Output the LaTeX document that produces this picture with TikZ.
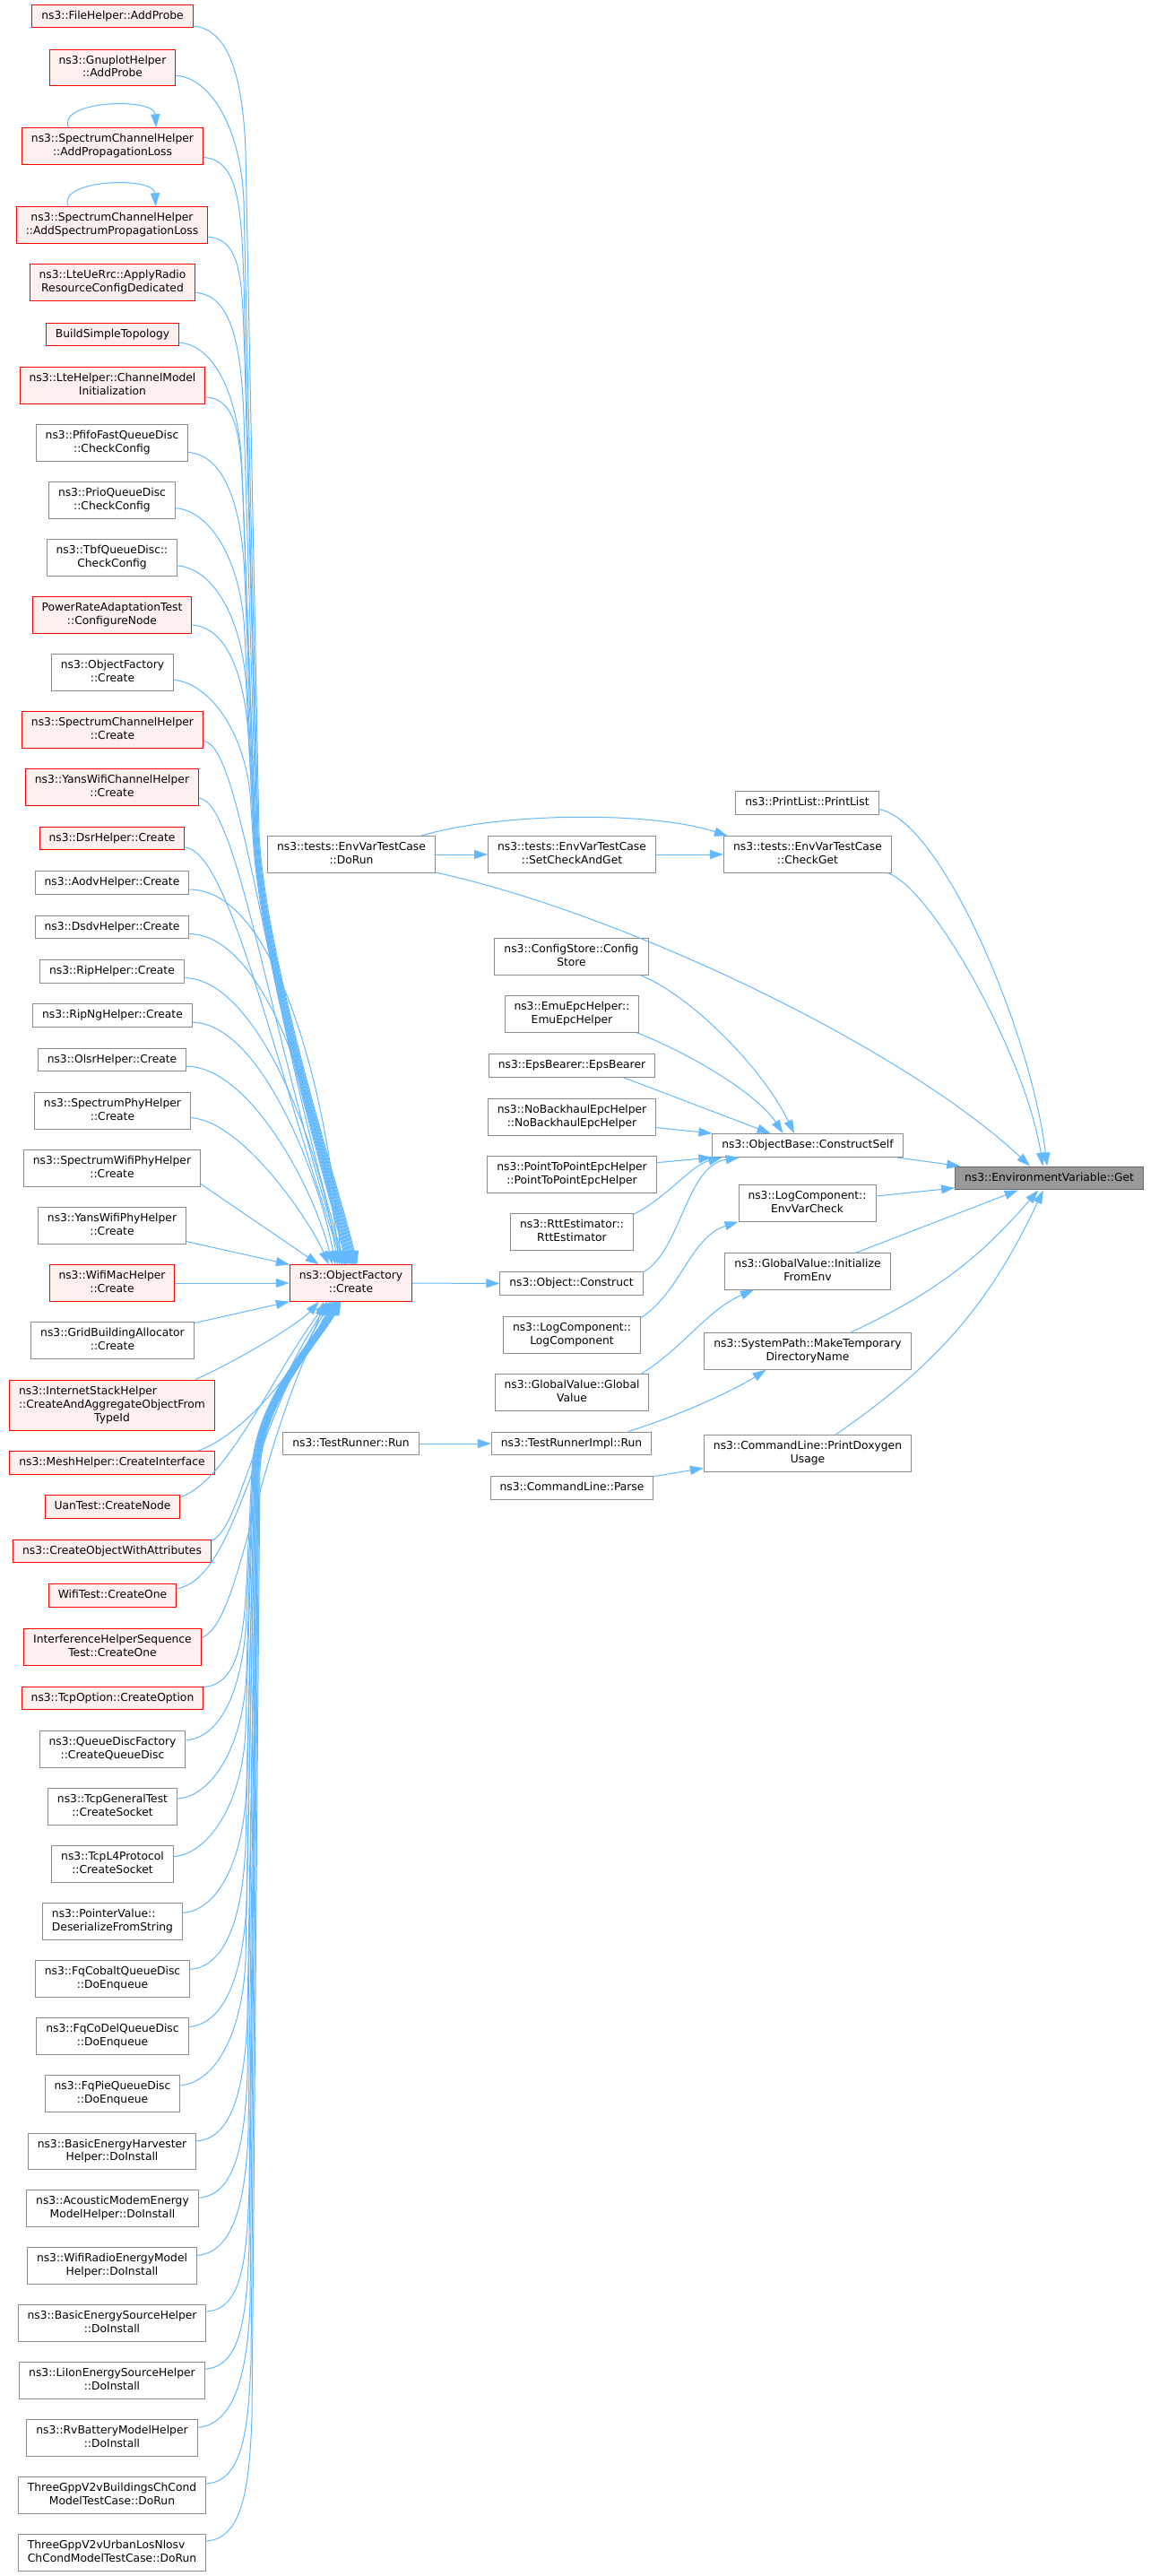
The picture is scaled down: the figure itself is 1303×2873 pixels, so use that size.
\documentclass[tikz,border=0pt]{standalone}
\usepackage{fontspec}
\setmainfont{DejaVu Sans}
\usetikzlibrary{arrows.meta}
\definecolor{edgeblue}{HTML}{63B8FF}
\definecolor{redfill}{HTML}{FFF0F0}
\definecolor{boxgrey}{HTML}{8C8C8C}
\definecolor{rootfill}{HTML}{999999}
\definecolor{rootline}{HTML}{666666}
\newcommand{\nstrut}{\rule[-3.3pt]{0pt}{12.9pt}}
\tikzstyle{B} = [rectangle,draw,line width=1pt,align=center,inner xsep=10.5pt,inner ysep=6.5pt,font=\fontsize{12.3pt}{14.7pt}\selectfont,execute at begin node=\nstrut,execute at end node=\nstrut]
\tikzstyle{G} = [B,draw=boxgrey,fill=white]
\tikzstyle{R} = [B,draw=red,fill=redfill]
\tikzstyle{T} = [B,draw=rootline,fill=rootfill]
\tikzstyle{E} = [draw=edgeblue,line width=1pt,-{Triangle[length=15pt,width=10pt]}]

\begin{document}
\begin{tikzpicture}[x=1pt,y=-1pt]
	\path[use as bounding box,fill=white] (0,0) rectangle (1303,2873);
	
	%%%%%%%%%%%%%%% callers of ObjectFactory::Create
	\node [R] (fprobe) at (125.5,18) {ns3::FileHelper::AddProbe};
	\node [R] (gprobe) at (125.5,75.5) {ns3::GnuplotHelper\\::AddProbe};
	\node [R] (sploss) at (125.5,163) {ns3::SpectrumChannelHelper\\::AddPropagationLoss};
	\node [R] (spsploss) at (125,251) {ns3::SpectrumChannelHelper\\::AddSpectrumPropagationLoss};
	\node [R] (rrcded) at (125.5,315) {ns3::LteUeRrc::ApplyRadio\\ResourceConfigDedicated};
	\node [R] (bst) at (125.5,373) {BuildSimpleTopology};
	\node [R] (ltecmi) at (125.5,430) {ns3::LteHelper::ChannelModel\\Initialization};
	\node [G] (pfifo) at (125,494) {ns3::PfifoFastQueueDisc\\::CheckConfig};
	\node [G] (prio) at (125,558) {ns3::PrioQueueDisc\\::CheckConfig};
	\node [G] (tbf) at (125,622) {ns3::TbfQueueDisc::\\CheckConfig};
	\node [R] (prat) at (125,686) {PowerRateAdaptationTest\\::ConfigureNode};
	\node [G] (ofleft) at (125.5,750) {ns3::ObjectFactory\\::Create};
	\node [R] (spchc) at (125.5,814) {ns3::SpectrumChannelHelper\\::Create};
	\node [R] (ywchc) at (125,878) {ns3::YansWifiChannelHelper\\::Create};
	\node [R] (dsr) at (125,935) {ns3::DsrHelper::Create};
	\node [G] (aodv) at (125,984.5) {ns3::AodvHelper::Create};
	\node [G] (dsdv) at (125,1034) {ns3::DsdvHelper::Create};
	\node [G] (rip) at (125,1083.5) {ns3::RipHelper::Create};
	\node [G] (ripng) at (125.5,1132.5) {ns3::RipNgHelper::Create};
	\node [G] (olsr) at (125,1182) {ns3::OlsrHelper::Create};
	\node [G] (spphy) at (125.5,1239) {ns3::SpectrumPhyHelper\\::Create};
	\node [G] (swphy) at (125,1303) {ns3::SpectrumWifiPhyHelper\\::Create};
	\node [G] (ywphy) at (125,1367) {ns3::YansWifiPhyHelper\\::Create};
	\node [R] (wmac) at (125,1431) {ns3::WifiMacHelper\\::Create};
	\node [G] (gba) at (125.5,1495) {ns3::GridBuildingAllocator\\::Create};
	\node [R] (ish) at (125,1567) {\begin{tabular}[b]{@{}l@{}}ns3::InternetStackHelper\\::CreateAndAggregateObjectFrom\end{tabular}\\TypeId};
	\node [R] (mesh) at (125,1631.5) {ns3::MeshHelper::CreateInterface};
	\node [R] (uan) at (125.5,1680.5) {UanTest::CreateNode};
	\node [R] (cowa) at (125,1730) {ns3::CreateObjectWithAttributes};
	\node [R] (wtest) at (125.5,1779.5) {WifiTest::CreateOne};
	\node [R] (ihs) at (125.5,1837) {InterferenceHelperSequence\\Test::CreateOne};
	\node [R] (tcpopt) at (125.5,1894) {ns3::TcpOption::CreateOption};
	\node [G] (qdf) at (125.5,1951) {ns3::QueueDiscFactory\\::CreateQueueDisc};
	\node [G] (tcpgt) at (125.5,2015) {ns3::TcpGeneralTest\\::CreateSocket};
	\node [G] (tcpl4) at (125.5,2079) {ns3::TcpL4Protocol\\::CreateSocket};
	\node [G,align=left] (ptrval) at (125.5,2143) {ns3::PointerValue::\\DeserializeFromString};
	\node [G] (fqcob) at (125.5,2207) {ns3::FqCobaltQueueDisc\\::DoEnqueue};
	\node [G] (fqcod) at (125.5,2271) {ns3::FqCoDelQueueDisc\\::DoEnqueue};
	\node [G] (fqpie) at (125.5,2335) {ns3::FqPieQueueDisc\\::DoEnqueue};
	\node [G] (beh) at (125,2399.5) {ns3::BasicEnergyHarvester\\Helper::DoInstall};
	\node [G] (amem) at (125.5,2463) {ns3::AcousticModemEnergy\\ModelHelper::DoInstall};
	\node [G] (wrem) at (125,2527) {ns3::WifiRadioEnergyModel\\Helper::DoInstall};
	\node [G] (bes) at (125,2591) {ns3::BasicEnergySourceHelper\\::DoInstall};
	\node [G] (lies) at (125,2655) {ns3::LiIonEnergySourceHelper\\::DoInstall};
	\node [G] (rvb) at (125,2719) {ns3::RvBatteryModelHelper\\::DoInstall};
	\node [G] (tgb) at (125,2783) {ThreeGppV2vBuildingsChCond\\ModelTestCase::DoRun};
	\node [G,align=left] (tgu) at (125,2847) {ThreeGppV2vUrbanLosNlosv\\ChCondModelTestCase::DoRun};
	%%%%%%%%%%%%%%% middle columns
	\node [G] (dorun) at (392,953) {ns3::tests::EnvVarTestCase\\::DoRun};
	\node [R] (ofc) at (391.5,1431) {ns3::ObjectFactory\\::Create};
	\node [G] (trun) at (391.5,1610) {ns3::TestRunner::Run};
	%----
	\node [G] (scag) at (638,953) {ns3::tests::EnvVarTestCase\\::SetCheckAndGet};
	\node [G] (cstore) at (637.5,1067) {ns3::ConfigStore::Config\\Store};
	\node [G] (emu) at (638,1131) {ns3::EmuEpcHelper::\\EmuEpcHelper};
	\node [G] (eps) at (638,1188.5) {ns3::EpsBearer::EpsBearer};
	\node [G] (nobh) at (638,1246) {ns3::NoBackhaulEpcHelper\\::NoBackhaulEpcHelper};
	\node [G] (p2p) at (638,1310) {ns3::PointToPointEpcHelper\\::PointToPointEpcHelper};
	\node [G] (rtt) at (638,1374) {ns3::RttEstimator::\\RttEstimator};
	\node [G] (oconst) at (637.5,1431.5) {ns3::Object::Construct};
	\node [G] (logc) at (638,1489) {ns3::LogComponent::\\LogComponent};
	\node [G] (gval) at (638,1553) {ns3::GlobalValue::Global\\Value};
	\node [G] (trimpl) at (637.5,1610) {ns3::TestRunnerImpl::Run};
	\node [G] (cparse) at (638,1659.5) {ns3::CommandLine::Parse};
	%----
	\node [G] (plist) at (900.5,895.5) {ns3::PrintList::PrintList};
	\node [G] (cget) at (901,953) {ns3::tests::EnvVarTestCase\\::CheckGet};
	\node [G] (cself) at (901,1277.5) {ns3::ObjectBase::ConstructSelf};
	\node [G] (evc) at (900.5,1342) {ns3::LogComponent::\\EnvVarCheck};
	\node [G] (ife) at (901,1418) {ns3::GlobalValue::Initialize\\FromEnv};
	\node [G] (mtdn) at (901,1507) {ns3::SystemPath::MakeTemporary\\DirectoryName};
	\node [G] (pdu) at (901,1621) {ns3::CommandLine::PrintDoxygen\\Usage};
	%----
	\node [T] (get) at (1170.5,1314) {ns3::EnvironmentVariable::Get};
	
	%%%%%%%%%%%%%%% edges into ObjectFactory::Create, from above
	\draw [E] (sploss.157) .. controls (62,112) and (172,108) .. (sploss.23);
	\draw [E] (spsploss.157) .. controls (62,200) and (172,196) .. (spsploss.23);
	\draw [E] (fprobe.-7) .. controls +(40,3) and +(-3,-80) .. (274,168) -- (289,930) .. controls +(8,150) and +(-15,-70) .. (ofc.72);
	\draw [E] (gprobe.-7) .. controls +(40,3) and +(-3,-80) .. (272,225) -- (288,930) .. controls +(8,150) and +(-15,-70) .. (ofc.75);
	\draw [E] (sploss.-7) .. controls +(40,3) and +(-3,-80) .. (272,313) -- (287,930) .. controls +(8,150) and +(-15,-70) .. (ofc.78);
	\draw [E] (spsploss.-7) .. controls +(40,3) and +(-3,-80) .. (273,401) -- (287,930) .. controls +(8,150) and +(-15,-70) .. (ofc.81);
	\draw [E] (rrcded.-7) .. controls +(40,3) and +(-3,-80) .. (272,465) -- (286,930) .. controls +(8,150) and +(-15,-70) .. (ofc.84);
	\draw [E] (bst.-7) .. controls +(40,3) and +(-3,-80) .. (270,523) -- (285,930) .. controls +(8,150) and +(-15,-70) .. (ofc.87);
	\draw [E] (ltecmi.-7) .. controls +(40,3) and +(-3,-80) .. (272,580) -- (285,930) .. controls +(8,150) and +(-15,-70) .. (ofc.90);
	\draw [E] (pfifo.-7) .. controls +(40,3) and +(-3,-80) .. (273,644) -- (284,930) .. controls +(8,150) and +(-15,-70) .. (ofc.93);
	\draw [E] (prio.-7) .. controls +(40,3) and +(-3,-80) .. (273,708) -- (284,930) .. controls +(8,150) and +(-15,-70) .. (ofc.96);
	\draw [E] (tbf.-7) .. controls +(40,3) and +(-3,-80) .. (275,772) -- (283,930) .. controls +(8,150) and +(-15,-70) .. (ofc.99);
	\draw [E] (prat.-7) .. controls +(40,3) and +(-3,-80) .. (278,836) -- (283,930) .. controls +(8,150) and +(-15,-70) .. (ofc.102);
	\draw [E] (ofleft.-7) .. controls +(40,3) and +(-3,-80) .. (280,900) -- (282,930) .. controls +(8,150) and +(-15,-70) .. (ofc.105);
	\draw [E] (spchc.-7) .. controls (270,830) and (296,1110) .. (ofc.108);
	\draw [E] (ywchc.-7) .. controls (265,895) and (298,1140) .. (ofc.111);
	\draw [E] (dsr.-7) .. controls (255,950) and (302,1170) .. (ofc.114);
	\draw [E] (aodv.-5) .. controls (310,992) and (368,1230) .. (ofc.118);
	\draw [E] (dsdv.-5) .. controls (300,1042) and (364,1260) .. (ofc.122);
	\draw [E] (rip.-5) .. controls (290,1092) and (360,1290) .. (ofc.126);
	\draw [E] (ripng.-5) .. controls (290,1141) and (356,1310) .. (ofc.130);
	\draw [E] (olsr.-5) .. controls (280,1190) and (352,1330) .. (ofc.135);
	\draw [E] (spphy.-5) .. controls (270,1250) and (345,1360) .. (ofc.140);
	\draw [E] (swphy.-10) -- (ofc.150);
	\draw [E] (ywphy.-12) -- (ofc.north west);
	\draw [E] (wmac) -- (ofc);
	\draw [E] (gba.12) -- (ofc.south west);
	%%%%%%%%%%%%%%% edges into ObjectFactory::Create, from below
	\draw [E] (ish.17) .. controls (270,1515) and (335,1475) .. (ofc.-150);
	\draw [E] (mesh.8) .. controls (275,1600) and (345,1510) .. (ofc.-146);
	\draw [E] (uan.8) .. controls (255,1650) and (300,1540) .. (ofc.-142);
	\draw [E] (cowa.6) .. controls (268,1705) and (282,1580) .. (ofc.-139);
	\draw [E] (wtest.6) .. controls (262,1760) and (280,1600) .. (ofc.-137);
	\draw [E] (ihs.6) .. controls (270,1810) and (282,1620) .. (ofc.-135);
	\draw [E] (tcpopt.7) .. controls +(40,-3) and +(-3,80) .. (276,1744) -- (281,1640) .. controls +(3,-80) and +(-20,40) .. (ofc.-133);
	\draw [E] (qdf.7) .. controls +(40,-3) and +(-3,80) .. (275,1801) -- (282,1640) .. controls +(3,-80) and +(-20,40) .. (ofc.-132);
	\draw [E] (tcpgt.7) .. controls +(40,-3) and +(-3,80) .. (275,1865) -- (282,1640) .. controls +(3,-80) and +(-20,40) .. (ofc.-131);
	\draw [E] (tcpl4.7) .. controls +(40,-3) and +(-3,80) .. (274,1929) -- (283,1640) .. controls +(3,-80) and +(-20,40) .. (ofc.-130);
	\draw [E] (ptrval.7) .. controls +(40,-3) and +(-3,80) .. (275,1993) -- (284,1640) .. controls +(3,-80) and +(-20,40) .. (ofc.-129);
	\draw [E] (fqcob.7) .. controls +(40,-3) and +(-3,80) .. (274,2057) -- (284,1640) .. controls +(3,-80) and +(-20,40) .. (ofc.-128);
	\draw [E] (fqcod.7) .. controls +(40,-3) and +(-3,80) .. (275,2121) -- (285,1640) .. controls +(3,-80) and +(-20,40) .. (ofc.-127);
	\draw [E] (fqpie.7) .. controls +(40,-3) and +(-3,80) .. (274,2185) -- (285,1640) .. controls +(3,-80) and +(-20,40) .. (ofc.-126);
	\draw [E] (beh.7) .. controls +(40,-3) and +(-3,80) .. (276,2249) -- (286,1640) .. controls +(3,-80) and +(-20,40) .. (ofc.-125);
	\draw [E] (amem.7) .. controls +(40,-3) and +(-3,80) .. (276,2313) -- (286,1640) .. controls +(3,-80) and +(-20,40) .. (ofc.-124);
	\draw [E] (wrem.7) .. controls +(40,-3) and +(-3,80) .. (277,2377) -- (287,1640) .. controls +(3,-80) and +(-20,40) .. (ofc.-123);
	\draw [E] (bes.7) .. controls +(40,-3) and +(-3,80) .. (278,2441) -- (287,1640) .. controls +(3,-80) and +(-20,40) .. (ofc.-122);
	\draw [E] (lies.7) .. controls +(40,-3) and +(-3,80) .. (278,2505) -- (288,1640) .. controls +(3,-80) and +(-20,40) .. (ofc.-121);
	\draw [E] (rvb.7) .. controls +(40,-3) and +(-3,80) .. (279,2569) -- (288,1640) .. controls +(3,-80) and +(-20,40) .. (ofc.-120);
	\draw [E] (tgb.7) .. controls +(40,-3) and +(-3,80) .. (280,2633) -- (289,1640) .. controls +(3,-80) and +(-20,40) .. (ofc.-119);
	\draw [E] (tgu.7) .. controls +(40,-3) and +(-3,80) .. (281,2697) -- (290,1640) .. controls +(3,-80) and +(-20,40) .. (ofc.-118);
	
	%%%%%%%%%%%%%%% right part
	\draw [E] (dorun) -- (scag);
	\draw [E] (scag) -- (cget);
	\draw [E] (dorun.15) .. controls (560,905) and (730,905) .. (cget.167);
	\draw [E] (dorun.-12) .. controls (700,1020) and (1010,1170) .. (get.148);
	\draw [E] (plist.-5) .. controls (1050,915) and (1150,1150) .. (get.100);
	\draw [E] (cget.-13) .. controls (1040,990) and (1145,1180) .. (get.118);
	\draw [E] (cself) -- (get);
	\draw [E] (evc) -- (get);
	\draw [E] (ife) -- (get);
	\draw [E] (mtdn) to[bend right=12] (get);
	\draw [E] (pdu) to[bend right=15] (get);
	%----
	\draw [E] (cstore.-15) .. controls (770,1110) and (850,1190) .. (cself.138);
	\draw [E] (emu.-16) .. controls (770,1175) and (845,1220) .. (cself.154);
	\draw [E] (eps.-13) -- (cself.162);
	\draw [E] (nobh.-7) -- (cself.north west);
	\draw [E] (p2p.8) -- (cself.south west);
	\draw [E] (rtt.16) .. controls (745,1335) and (770,1300) .. (cself.-172);
	\draw [E] (oconst.9) .. controls (760,1395) and (765,1300) .. (cself.-170);
	\draw [E] (ofc) -- (oconst);
	\draw [E] (logc.14) .. controls (760,1440) and (770,1380) .. (evc.south west);
	\draw [E] (gval.15) .. controls (760,1505) and (790,1460) .. (ife.-161);
	\draw [E] (trimpl.12) .. controls (760,1578) and (820,1550) .. (mtdn.-156);
	\draw [E] (trun) -- (trimpl);
	\draw [E] (cparse.8) -- (pdu.-172);
	
\end{tikzpicture}
\end{document}
